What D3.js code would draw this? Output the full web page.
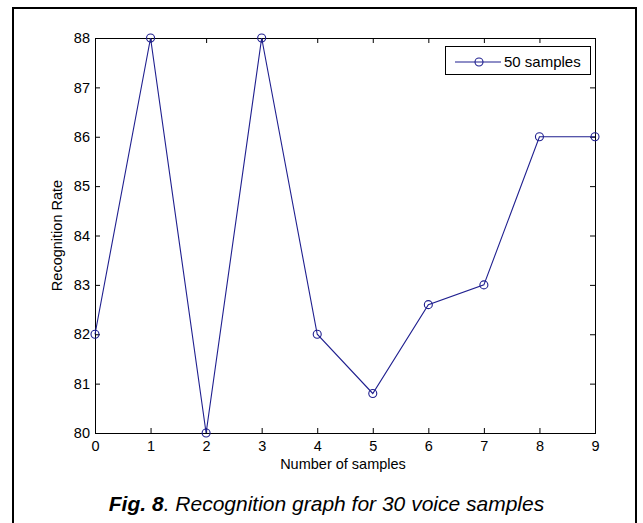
<!DOCTYPE html>
<html>
<head>
<meta charset="utf-8">
<script src="https://cdn.jsdelivr.net/npm/d3@7"></script>
<style>
  html, body { margin: 0; padding: 0; background: #fff; }
  svg { display: block; }
  text { font-family: "Liberation Sans", Arial, Helvetica, sans-serif; fill: #000; }
</style>
</head>
<body>
<svg id="chart" width="643" height="523"></svg>
<script>
// ---- data ----
const xValues = [0, 1, 2, 3, 4, 5, 6, 7, 8, 9];
const recognitionRate = [82, 88, 80, 88, 82, 80.8, 82.6, 83, 86, 86];
const xTicks = [0, 1, 2, 3, 4, 5, 6, 7, 8, 9];
const yTicks = [80, 81, 82, 83, 84, 85, 86, 87, 88];
const seriesName = "50 samples";
const xLabel = "Number of samples";
const yLabel = "Recognition Rate";
const captionBold = "Fig. 8";
const captionRest = ". Recognition graph for 30 voice samples";

// ---- layout ----
const W = 643, H = 523;
const plot = { left: 95, right: 595, top: 38, bottom: 433 };
const lineColor = "#1f1f8f";
const fontSize = 14.5;

const svg = d3.select("#chart");

// outer frame
svg.append("rect")
  .attr("x", 13).attr("y", 8)
  .attr("width", 623).attr("height", 540)
  .attr("fill", "none").attr("stroke", "#000").attr("stroke-width", 2);

const x = d3.scaleLinear().domain([0, 9]).range([plot.left, plot.right]);
const y = d3.scaleLinear().domain([80, 88]).range([plot.bottom, plot.top]);

// axes (MATLAB style, inward ticks)
const gB = svg.append("g").attr("transform", `translate(0,${plot.bottom})`)
  .call(d3.axisBottom(x).tickValues(xTicks).tickSizeInner(-5).tickSizeOuter(0).tickPadding(8).tickFormat(d3.format("d")));
const gL = svg.append("g").attr("transform", `translate(${plot.left},0)`)
  .call(d3.axisLeft(y).tickValues(yTicks).tickSizeInner(-5).tickSizeOuter(0).tickPadding(5).tickFormat(d3.format("d")));
const gT = svg.append("g").attr("transform", `translate(0,${plot.top})`)
  .call(d3.axisTop(x).tickValues(xTicks).tickSizeInner(-5).tickSizeOuter(0).tickFormat(""));
const gR = svg.append("g").attr("transform", `translate(${plot.right},0)`)
  .call(d3.axisRight(y).tickValues(yTicks).tickSizeInner(-5).tickSizeOuter(0).tickFormat(""));

[gB, gL, gT, gR].forEach(g => {
  g.selectAll("path.domain").remove();
  g.selectAll("line").attr("stroke", "#000").attr("stroke-width", 1);
  g.selectAll("text").attr("font-size", fontSize).attr("font-family", "Liberation Sans, Arial, sans-serif").attr("fill", "#000");
});

// axes box
svg.append("rect")
  .attr("x", plot.left + 0.5).attr("y", plot.top + 0.5)
  .attr("width", plot.right - plot.left).attr("height", plot.bottom - plot.top)
  .attr("fill", "none").attr("stroke", "#000").attr("stroke-width", 1);

// series line
const pts = xValues.map((v, i) => [v, recognitionRate[i]]);
svg.append("path")
  .datum(pts)
  .attr("fill", "none")
  .attr("stroke", lineColor)
  .attr("stroke-width", 1.1)
  .attr("d", d3.line().x(d => x(d[0])).y(d => y(d[1])));

svg.append("g").selectAll("circle")
  .data(pts).join("circle")
  .attr("cx", d => x(d[0])).attr("cy", d => y(d[1]))
  .attr("r", 4)
  .attr("fill", "none")
  .attr("stroke", lineColor)
  .attr("stroke-width", 1.1);

// axis labels
svg.append("text")
  .attr("x", (plot.left + plot.right) / 2 - 2).attr("y", 469)
  .attr("text-anchor", "middle").attr("font-size", fontSize)
  .text(xLabel);

svg.append("text")
  .attr("transform", `translate(62,${(plot.top + plot.bottom) / 2}) rotate(-90)`)
  .attr("text-anchor", "middle").attr("font-size", fontSize)
  .text(yLabel);

// legend
const lg = svg.append("g");
lg.append("rect")
  .attr("x", 445.5).attr("y", 46.5).attr("width", 145).attr("height", 28)
  .attr("fill", "#fff").attr("stroke", "#000").attr("stroke-width", 1);
lg.append("line")
  .attr("x1", 455).attr("x2", 501).attr("y1", 62).attr("y2", 62)
  .attr("stroke", lineColor).attr("stroke-width", 1.1);
lg.append("circle")
  .attr("cx", 479).attr("cy", 62).attr("r", 4)
  .attr("fill", "none").attr("stroke", lineColor).attr("stroke-width", 1.1);
lg.append("text")
  .attr("x", 504).attr("y", 67).attr("font-size", 15)
  .text(seriesName);

// caption
const cap = svg.append("text")
  .attr("x", 326.5).attr("y", 511)
  .attr("text-anchor", "middle")
  .attr("font-size", 21)
  .attr("font-style", "italic");
cap.append("tspan").attr("font-weight", "bold").text(captionBold);
cap.append("tspan").text(captionRest);
</script>
</body>
</html>
